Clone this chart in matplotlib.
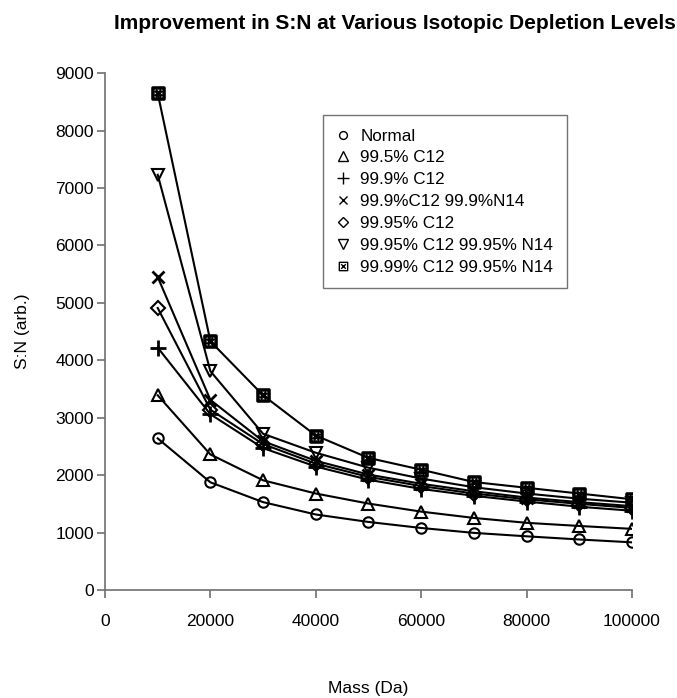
import matplotlib

matplotlib.use("Agg")
import matplotlib.pyplot as plt
from matplotlib.lines import Line2D
from matplotlib.path import Path

plt.rcParams["font.family"] = ["Liberation Sans", "DejaVu Sans"]

mass = [10000, 20000, 30000, 40000, 50000, 60000, 70000, 80000, 90000, 100000]

sn_normal = [2640, 1875, 1530, 1315, 1185, 1080, 995, 935, 880, 830]
sn_c12_995 = [3390, 2360, 1910, 1680, 1505, 1365, 1255, 1170, 1115, 1065]
sn_c12_999 = [4220, 3060, 2470, 2150, 1920, 1760, 1640, 1540, 1450, 1380]
sn_c12_999_n14_999 = [5450, 3310, 2590, 2250, 2010, 1850, 1720, 1610, 1530, 1460]
sn_c12_9995 = [4910, 3140, 2540, 2200, 1970, 1810, 1680, 1580, 1500, 1430]
sn_c12_9995_n14_9995 = [7230, 3810, 2720, 2390, 2130, 1940, 1790, 1680, 1590, 1520]
sn_c12_9999_n14_9995 = [8650, 4330, 3390, 2690, 2300, 2095, 1880, 1780, 1680, 1580]

labels = [
    "Normal",
    "99.5% C12",
    "99.9% C12",
    "99.9%C12 99.9%N14",
    "99.95% C12",
    "99.95% C12 99.95% N14",
    "99.99% C12 99.95% N14",
]
series = [sn_normal, sn_c12_995, sn_c12_999, sn_c12_999_n14_999,
          sn_c12_9995, sn_c12_9995_n14_9995, sn_c12_9999_n14_9995]

# boxed x marker (square with both diagonals)
boxx = Path(
    [(-1, -1), (1, -1), (1, 1), (-1, 1), (-1, -1),
     (-0.55, -0.55), (0.55, 0.55), (-0.55, 0.55), (0.55, -0.55)],
    [Path.MOVETO, Path.LINETO, Path.LINETO, Path.LINETO, Path.CLOSEPOLY,
     Path.MOVETO, Path.LINETO, Path.MOVETO, Path.LINETO],
)
markers = ["o", "^", "+", "x", "D", "v", boxx]
msizes = [7.5, 9, 11.5, 8.5, 7, 9, 8]
mews = [1.5, 1.5, 2.0, 2.0, 1.5, 1.5, 2.5]

fig = plt.figure(figsize=(6.77, 6.98), dpi=100)
ax = fig.add_axes([0.1551, 0.1547, 0.7784, 0.7406])

for y, lab, m, ms, mew in zip(series, labels, markers, msizes, mews):
    ax.plot(mass, y, color="black", linewidth=1.5, marker=m, markersize=ms,
            markerfacecolor="none", markeredgecolor="black",
            markeredgewidth=mew, label=lab)

ax.set_xlim(0, 100000)
ax.set_ylim(0, 9000)
ax.set_xticks(range(0, 100001, 20000))
ax.set_yticks(range(0, 9001, 1000))
for s in ["top", "right"]:
    ax.spines[s].set_visible(False)
for s in ["left", "bottom"]:
    ax.spines[s].set_color("#707070")
    ax.spines[s].set_linewidth(1.2)
ax.tick_params(direction="out", length=6, width=1.2, color="#707070",
               labelsize=12.5, pad=2)
ax.tick_params(axis="x", pad=11)

ax.set_xlabel("Mass (Da)", fontsize=12.5, labelpad=38)
ax.set_ylabel("S:N (arb.)", fontsize=12.5, labelpad=18)
fig.text(0.583, 0.966, "Improvement in S:N at Various Isotopic Depletion Levels",
         ha="center", va="center", fontsize=15, fontweight="bold")

handles = [Line2D([], [], linestyle="none", marker=m, markersize=ms * 0.75,
                  markerfacecolor="none", markeredgecolor="black",
                  markeredgewidth=1.0)
           for m, ms in zip(markers, msizes)]
leg = ax.legend(handles, labels, loc="upper left", bbox_to_anchor=(0.413, 0.919),
                fontsize=12.3, frameon=True, fancybox=False, handlelength=0.8,
                handletextpad=0.6, labelspacing=0.4, borderpad=0.8,
                borderaxespad=0)
leg.get_frame().set_edgecolor("#505050")
leg.get_frame().set_linewidth(1.0)

fig.savefig("out.png", dpi=100)
